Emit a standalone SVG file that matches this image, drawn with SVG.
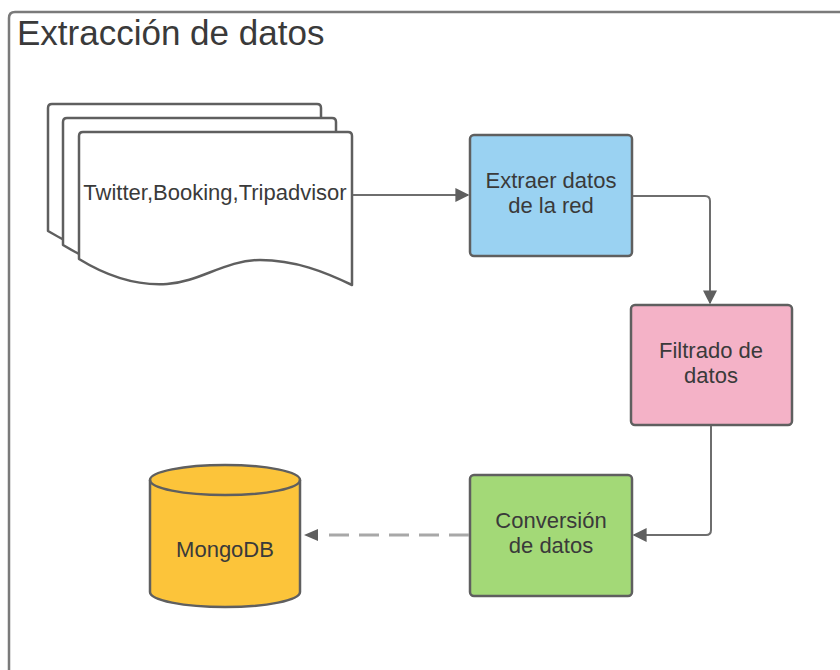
<svg xmlns="http://www.w3.org/2000/svg" width="840" height="670" viewBox="0 0 840 670">
<defs>
<style>
.lbl{font-family:"Liberation Sans",Arial,sans-serif;font-size:22px;fill:#3a3a3a;text-anchor:middle}
.box{stroke:#5f5f5f;stroke-width:2.5}
.doc{fill:#fff;stroke:#5f5f5f;stroke-width:2.5;stroke-linejoin:round}
.conn{fill:none;stroke:#6e6e6e;stroke-width:2}
.dash{fill:none;stroke:#a8a8a8;stroke-width:3;stroke-dasharray:20 10}
</style>
<marker id="ah" viewBox="0 0 10 10" refX="9" refY="5" markerWidth="14" markerHeight="14" markerUnits="userSpaceOnUse" orient="auto">
<path d="M0,0 L10,5 L0,10 Z" fill="#5f5f5f"/>
</marker>
<path id="docshape" d="M79 259 V136 Q79 132 83 132 H348 Q352 132 352 136 V285 C325 272 295 260 260 260 C225 260 200 282 167 284 C135 286 105 275 79 259 Z"/>
</defs>
<rect width="840" height="670" fill="#fff"/>
<g id="container">
<path d="M9 670 V18 Q9 12 15 12 H840" fill="none" stroke="#7a7a7a" stroke-width="2.5"/>
<text x="17" y="45" font-family="'Liberation Sans',Arial,sans-serif" font-size="35" fill="#3a3a3a">Extracción de datos</text>
</g>
<g id="sources">
<use href="#docshape" class="doc" transform="translate(-31,-28)"/>
<use href="#docshape" class="doc" transform="translate(-16,-14)"/>
<use href="#docshape" class="doc"/>
<text class="lbl" x="215" y="200">Twitter,Booking,Tripadvisor</text>
</g>
<g id="extraer">
<rect class="box" x="470" y="135" width="162" height="121" rx="4" fill="#9ad2f2"/>
<text class="lbl" x="551" y="188">Extraer datos</text>
<text class="lbl" x="551" y="213">de la red</text>
</g>
<g id="filtrado">
<rect class="box" x="631" y="305" width="161" height="120" rx="4" fill="#f4b2c7"/>
<text class="lbl" x="711" y="358">Filtrado de</text>
<text class="lbl" x="711" y="383">datos</text>
</g>
<g id="conversion">
<rect class="box" x="470" y="475" width="162" height="121" rx="4" fill="#a3d977"/>
<text class="lbl" x="551" y="528">Conversión</text>
<text class="lbl" x="551" y="553">de datos</text>
</g>
<g id="mongodb">
<path class="box" d="M150 480 V592 A75 15 0 0 0 300 592 V480 A75 15 0 0 0 150 480 Z" fill="#fcc43a"/>
<path d="M150 480 A75 15 0 0 0 300 480" fill="none" stroke="#5f5f5f" stroke-width="2.5"/>
<text class="lbl" x="225" y="557">MongoDB</text>
</g>
<g id="connectors">
<path class="conn" d="M353 195 H468" marker-end="url(#ah)"/>
<path class="conn" d="M633 196 H705 Q710 196 710 201 V303" marker-end="url(#ah)"/>
<path class="conn" d="M711 426 V530 Q711 535 706 535 H634" marker-end="url(#ah)"/>
<path class="dash" d="M469 535 H322"/>
<path d="M318 529 L304 535 L318 541 Z" fill="#5f5f5f"/>
</g>
</svg>
